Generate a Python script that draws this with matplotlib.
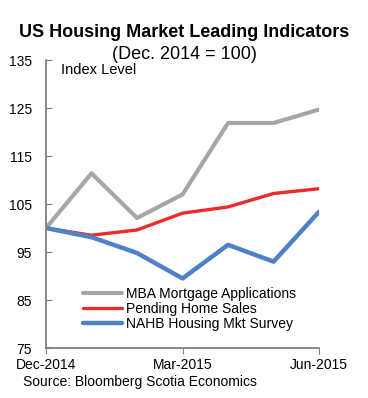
import matplotlib
matplotlib.use("Agg")
import matplotlib.pyplot as plt

plt.rcParams['font.family'] = ['Liberation Sans', 'DejaVu Sans']

months = ['Dec-2014', 'Jan-2015', 'Feb-2015', 'Mar-2015', 'Apr-2015', 'May-2015', 'Jun-2015']
mba = [100.0, 111.4, 102.1, 107.0, 121.9, 121.9, 124.7]
pending = [100.0, 98.5, 99.6, 103.1, 104.4, 107.2, 108.2]
nahb = [100.0, 98.1, 94.8, 89.5, 96.5, 93.0, 103.4]

x = list(range(len(months)))

fig = plt.figure(figsize=(3.68, 3.98), dpi=100)
ax = fig.add_axes([0.125, 0.1256, 0.742, 0.7234])

ax.plot(x, mba, color='#A6A6A6', linewidth=3.0, label='MBA Mortgage Applications', solid_capstyle='round')
ax.plot(x, pending, color='#EE2A2A', linewidth=2.4, label='Pending Home Sales', solid_capstyle='round')
ax.plot(x, nahb, color='#4F81C6', linewidth=3.2, label='NAHB Housing Mkt Survey', solid_capstyle='round')

ax.set_xlim(0, 6)
ax.set_ylim(75, 135)
ax.set_yticks([75, 85, 95, 105, 115, 125, 135])
ax.set_xticks([0, 3, 6])
ax.set_xticklabels([months[0], months[3], months[6]])

for s in ['top', 'right']:
    ax.spines[s].set_visible(False)
for s in ['left', 'bottom']:
    ax.spines[s].set_color('#808080')
    ax.spines[s].set_linewidth(1.3)

ax.tick_params(axis='y', direction='in', length=4, color='#808080', labelsize=10, pad=10)
ax.tick_params(axis='x', direction='out', length=4, color='#808080', labelsize=10, pad=3)

ax.legend(loc='lower left', bbox_to_anchor=(0.1, 0.025), frameon=False, fontsize=10,
          handlelength=2.8, handletextpad=0.3, labelspacing=0.08, borderpad=0.2)

ax.text(0.055, 0.99, 'Index Level', transform=ax.transAxes, fontsize=10.5, va='top', ha='left')

fig.text(0.5, 0.918, 'US Housing Market Leading Indicators', ha='center', va='center',
         fontsize=13, fontweight='bold')
fig.text(0.5, 0.862, '(Dec. 2014 = 100)', ha='center', va='center', fontsize=13)
fig.text(0.063, 0.04, 'Source: Bloomberg Scotia Economics', ha='left', va='center', fontsize=10)

fig.savefig('out.png', dpi=100)
